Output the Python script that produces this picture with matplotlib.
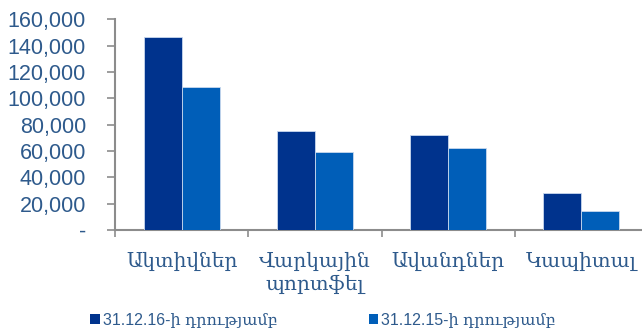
import matplotlib
matplotlib.use("Agg")
import matplotlib.pyplot as plt
from matplotlib.ticker import FuncFormatter, FixedLocator
from matplotlib.patches import Patch
import numpy as np

categories = ["Ակտիվներ", "Վարկային\nպորտֆել", "Ավանդներ", "Կապիտալ"]
series_names = ["31.12.16-ի դրությամբ", "31.12.15-ի դրությամբ"]
values_2016 = [146200, 74800, 72200, 27800]
values_2015 = [108300, 59100, 61900, 14600]
y_ticks = [0, 20000, 40000, 60000, 80000, 100000, 120000, 140000, 160000]

dark = "#00338D"
light = "#005EB8"
text_col = "#2E5A8C"
axis_col = "#8C8C8C"

fig = plt.figure(figsize=(6.42, 3.34), dpi=100)
ax = fig.add_axes([115/642, 104/334, 533/642, (230-19.3)/334])

x = np.arange(len(categories))
w = 0.286
ax.bar(x - w/2, values_2016, width=w, color=dark, edgecolor="#C8D8EE", linewidth=0.6, zorder=3)
ax.bar(x + w/2, values_2015, width=w, color=light, edgecolor="#C8D8EE", linewidth=0.6, zorder=3)

ax.set_xlim(-0.5, len(categories) - 0.5)
ax.set_ylim(0, 160000)
ax.set_yticks(y_ticks)
ax.yaxis.set_major_formatter(FuncFormatter(lambda v, p: "-" if v == 0 else f"{int(v):,}"))
ax.tick_params(axis="y", direction="out", length=5.8, width=1.2, color=axis_col,
               labelsize=15.5, labelcolor=text_col, pad=15)
for lab in ax.get_yticklabels():
    lab.set_fontfamily(["Liberation Sans", "DejaVu Sans"])

ax.set_xticks(x)
ax.set_xticklabels(categories, fontsize=14.5, color=text_col,
                   family=["DejaVu Serif", "DejaVu Sans"], linespacing=1.25)
ax.tick_params(axis="x", which="major", length=0, pad=16)
ax.xaxis.set_minor_locator(FixedLocator(np.arange(len(categories) + 1) - 0.5))
ax.tick_params(axis="x", which="minor", direction="out", length=5, width=1.2, color=axis_col)

for s in ["top", "right"]:
    ax.spines[s].set_visible(False)
for s in ["left", "bottom"]:
    ax.spines[s].set_color(axis_col)
    ax.spines[s].set_linewidth(1.5)

handles = [Patch(facecolor=dark, edgecolor="none"), Patch(facecolor=light, edgecolor="none")]
leg = fig.legend(handles, series_names, ncol=2, loc="center left",
                 bbox_to_anchor=(84/642, 1 - 320/334), frameon=False,
                 prop={"family": ["Liberation Sans", "DejaVu Serif"], "size": 11.5},
                 handlelength=0.6, handleheight=0.6, handletextpad=0.2,
                 columnspacing=5.7, borderaxespad=0)
for t in leg.get_texts():
    t.set_color(text_col)

fig.savefig("out.png", dpi=100)
